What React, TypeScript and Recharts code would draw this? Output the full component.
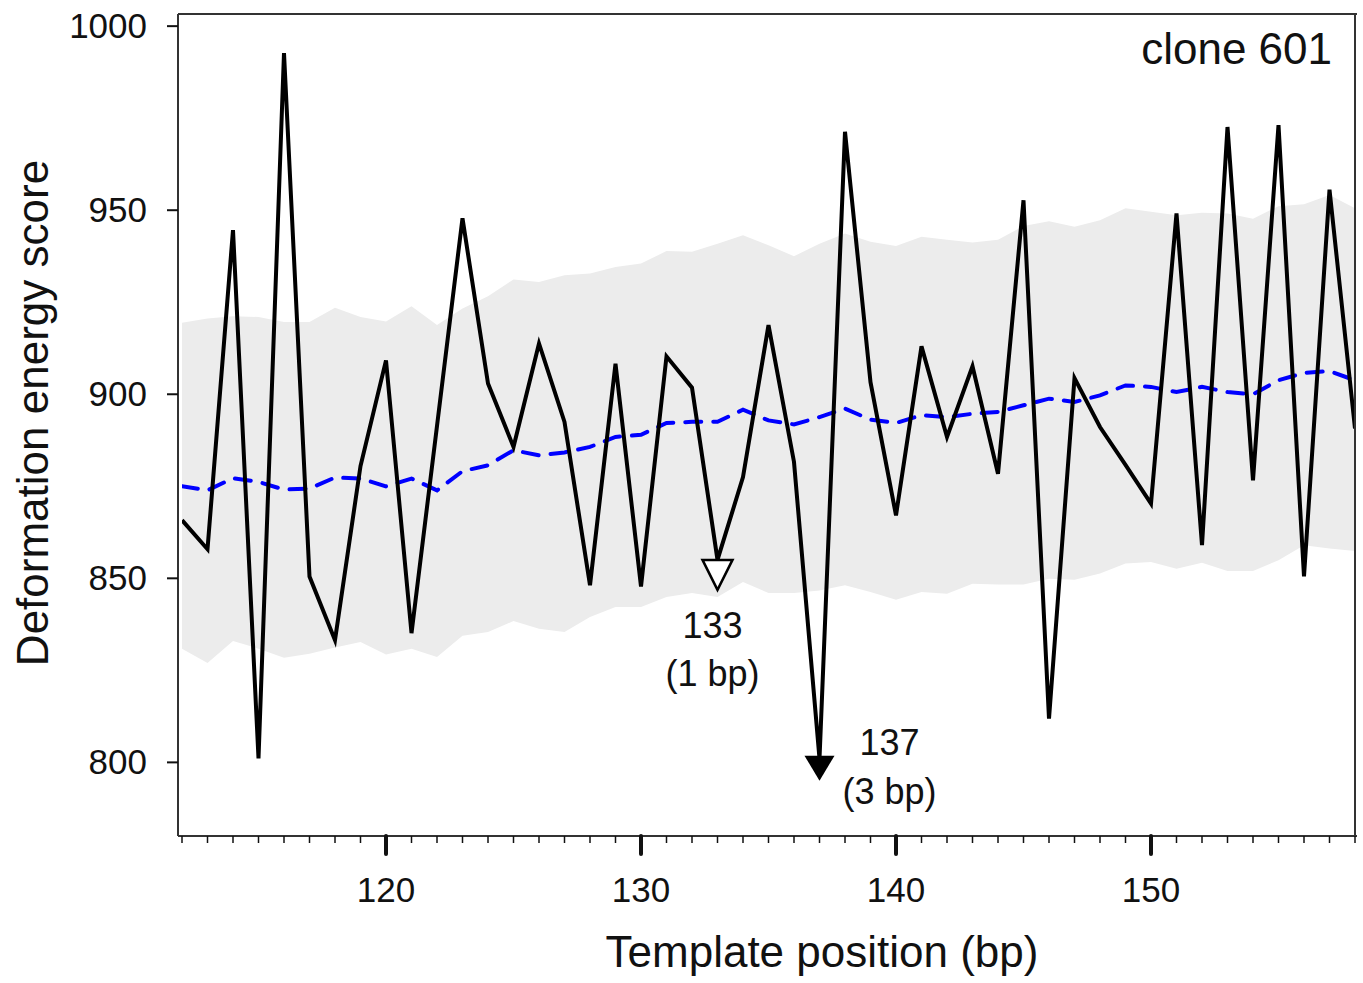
import {
  Area,
  ComposedChart,
  Label,
  Line,
  ReferenceLine,
  XAxis,
  YAxis,
} from 'recharts';

const positions = [
  112, 113, 114, 115, 116, 117, 118, 119, 120, 121, 122, 123, 124, 125, 126, 127,
  128, 129, 130, 131, 132, 133, 134, 135, 136, 137, 138, 139, 140, 141, 142, 143,
  144, 145, 146, 147, 148, 149, 150, 151, 152, 153, 154, 155, 156, 157, 158,
];

const clone601 = [
  865.8, 857.9, 944.6, 801.1, 992.7, 850.5, 833.2, 880.5, 909.2, 835.1, 891.4, 947.8,
  902.9, 885.7, 913.8, 892.5, 848.1, 908.3, 847.8, 910.3, 901.8, 855.0, 877.5, 918.8,
  881.6, 801.0, 971.3, 903.3, 867.1, 913.0, 888.4, 907.6, 878.4, 952.7, 811.9, 904.4,
  891.1, 880.8, 870.3, 949.1, 859.0, 972.6, 876.6, 973.1, 850.5, 955.6, 890.7,
];

const randomMean = [
  875.0, 873.9, 877.2, 876.2, 874.1, 874.4, 877.4, 877.1, 875.0, 877.1, 873.9, 879.1,
  880.7, 884.8, 883.4, 884.2, 885.7, 888.4, 889.0, 892.2, 892.5, 892.5, 895.8, 892.9,
  891.8, 893.8, 896.1, 893.1, 892.2, 894.3, 893.8, 894.7, 895.2, 897.0, 898.8, 897.9,
  899.7, 902.4, 902.0, 900.6, 902.0, 900.6, 900.0, 903.8, 905.8, 906.3, 903.8,
];

const bandHigh = [
  919.4, 920.6, 921.2, 921.0, 919.6, 919.6, 923.5, 921.0, 919.8, 923.9, 918.8, 923.3,
  926.6, 931.2, 930.5, 932.3, 932.8, 934.6, 935.5, 938.9, 938.7, 940.9, 943.2, 940.5,
  937.5, 940.9, 943.7, 941.4, 940.3, 942.8, 942.0, 941.2, 942.0, 945.7, 947.0, 945.5,
  947.3, 950.5, 949.6, 948.6, 949.3, 949.1, 947.7, 951.1, 951.6, 954.1, 950.5,
];

const bandLow = [
  830.9, 827.0, 833.0, 830.9, 828.4, 829.5, 831.2, 832.7, 829.3, 830.9, 828.6, 834.4,
  835.4, 838.4, 836.3, 835.4, 839.5, 842.2, 842.2, 844.9, 846.0, 844.9, 849.0, 846.0,
  846.0, 846.7, 848.1, 846.3, 844.2, 846.3, 845.8, 848.5, 848.3, 848.3, 849.9, 849.6,
  851.3, 854.0, 854.4, 852.6, 854.2, 852.0, 852.0, 854.9, 859.0, 858.1, 857.4,
];

const yTicks = [800, 850, 900, 950, 1000];
const xTicks = positions;

const annotations = [
  { pos: 133, label: '133', note: '(1 bp)', filled: false },
  { pos: 137, label: '137', note: '(3 bp)', filled: true },
];

const data = positions.map((p, i) => ({
  pos: p,
  score: clone601[i],
  mean: randomMean[i],
  band: [bandLow[i], bandHigh[i]],
}));

const FONT = '"Liberation Sans", Arial, Helvetica, sans-serif';
const AXIS_COLOR = '#333';

function XTick(props: any) {
  const { x, y, payload } = props;
  const major = payload.value % 10 === 0;
  return (
    <g>
      <line
        x1={x}
        x2={x}
        y1={y}
        y2={y + (major ? 18 : 7)}
        stroke="#111"
        strokeWidth={major ? 4 : 1.5}
        strokeLinecap={major ? 'round' : 'butt'}
      />
      {major && (
        <text x={x} y={y + 66} textAnchor="middle" fontSize={35} fontFamily={FONT} fill="#111">
          {payload.value}
        </text>
      )}
    </g>
  );
}

function YTick(props: any) {
  const { x, y, payload } = props;
  return (
    <text x={x} y={y} dy={12} textAnchor="end" fontSize={35} fontFamily={FONT} fill="#111">
      {payload.value}
    </text>
  );
}

function ScoreDot(props: any) {
  const { cx, cy, payload, index } = props;
  const a = annotations.find(n => n.pos === payload.pos);
  if (!a) return <g key={`d-${index}`} />;
  if (a.filled) {
    return (
      <g key={`d-${index}`}>
        <path d={`M${cx - 15},${cy - 3} L${cx + 15},${cy - 3} L${cx},${cy + 22} Z`} fill="#000" />
        <text x={cx + 70} y={cy - 4} textAnchor="middle" fontSize={36} fontFamily={FONT} fill="#111">
          {a.label}
        </text>
        <text x={cx + 70} y={cy + 45} textAnchor="middle" fontSize={36} fontFamily={FONT} fill="#111">
          {a.note}
        </text>
      </g>
    );
  }
  return (
    <g key={`d-${index}`}>
      <path
        d={`M${cx - 15},${cy} L${cx + 15},${cy} L${cx},${cy + 30} Z`}
        fill="#fff"
        stroke="#000"
        strokeWidth={2.5}
        strokeLinejoin="miter"
      />
      <text x={cx - 5} y={cy + 78} textAnchor="middle" fontSize={36} fontFamily={FONT} fill="#111">
        {a.label}
      </text>
      <text x={cx - 5} y={cy + 126} textAnchor="middle" fontSize={36} fontFamily={FONT} fill="#111">
        {a.note}
      </text>
    </g>
  );
}

export default function App() {
  return (
    <div style={{ position: 'absolute', left: 0, top: 0, width: 1363, height: 983, background: '#fff' }}>
      <ComposedChart
        width={1363}
        height={983}
        data={data}
        margin={{ top: 14, right: 6, bottom: 0, left: 0 }}
      >
        <XAxis
          dataKey="pos"
          type="number"
          domain={[112, 158]}
          ticks={xTicks}
          interval={0}
          allowDataOverflow
          padding={{ left: 4, right: 2 }}
          height={147}
          tickSize={0}
          tickMargin={0}
          tickLine={false}
          tick={<XTick />}
          axisLine={{ stroke: AXIS_COLOR, strokeWidth: 2 }}
        >
          <Label
            content={() => (
              <text x={822} y={967} textAnchor="middle" fontSize={44} fontFamily={FONT} fill="#111">
                Template position (bp)
              </text>
            )}
          />
        </XAxis>
        <YAxis
          type="number"
          domain={[780, 1003.3]}
          ticks={yTicks}
          interval={0}
          allowDataOverflow
          width={178}
          tickSize={11}
          tickMargin={20}
          tick={<YTick />}
          tickLine={{ stroke: '#111', strokeWidth: 2 }}
          axisLine={{ stroke: AXIS_COLOR, strokeWidth: 2 }}
        >
          <Label
            content={() => (
              <text
                x={48}
                y={413}
                transform="rotate(-90 48 413)"
                textAnchor="middle"
                fontSize={44}
                fontFamily={FONT}
                fill="#111"
              >
                Deformation energy score
              </text>
            )}
          />
        </YAxis>
        <Area
          dataKey="band"
          type="linear"
          stroke="none"
          fill="#ececec"
          fillOpacity={1}
          isAnimationActive={false}
          activeDot={false}
        />
        <Line
          dataKey="mean"
          type="linear"
          stroke="#0000ff"
          strokeWidth={4}
          strokeDasharray="16 12"
          strokeLinecap="round"
          dot={false}
          activeDot={false}
          isAnimationActive={false}
        />
        <Line
          dataKey="score"
          type="linear"
          stroke="#000"
          strokeWidth={4}
          dot={ScoreDot}
          activeDot={false}
          isAnimationActive={false}
        />
        <ReferenceLine y={1003.3} stroke={AXIS_COLOR} strokeWidth={2} ifOverflow="visible" />
        <ReferenceLine x={158} stroke={AXIS_COLOR} strokeWidth={2} ifOverflow="visible" />
      </ComposedChart>
      <div
        style={{
          position: 'absolute',
          right: 1363 - 1332,
          top: 24,
          fontFamily: FONT,
          fontSize: 44,
          color: '#111',
          lineHeight: '50px',
        }}
      >
        clone 601
      </div>
    </div>
  );
}
